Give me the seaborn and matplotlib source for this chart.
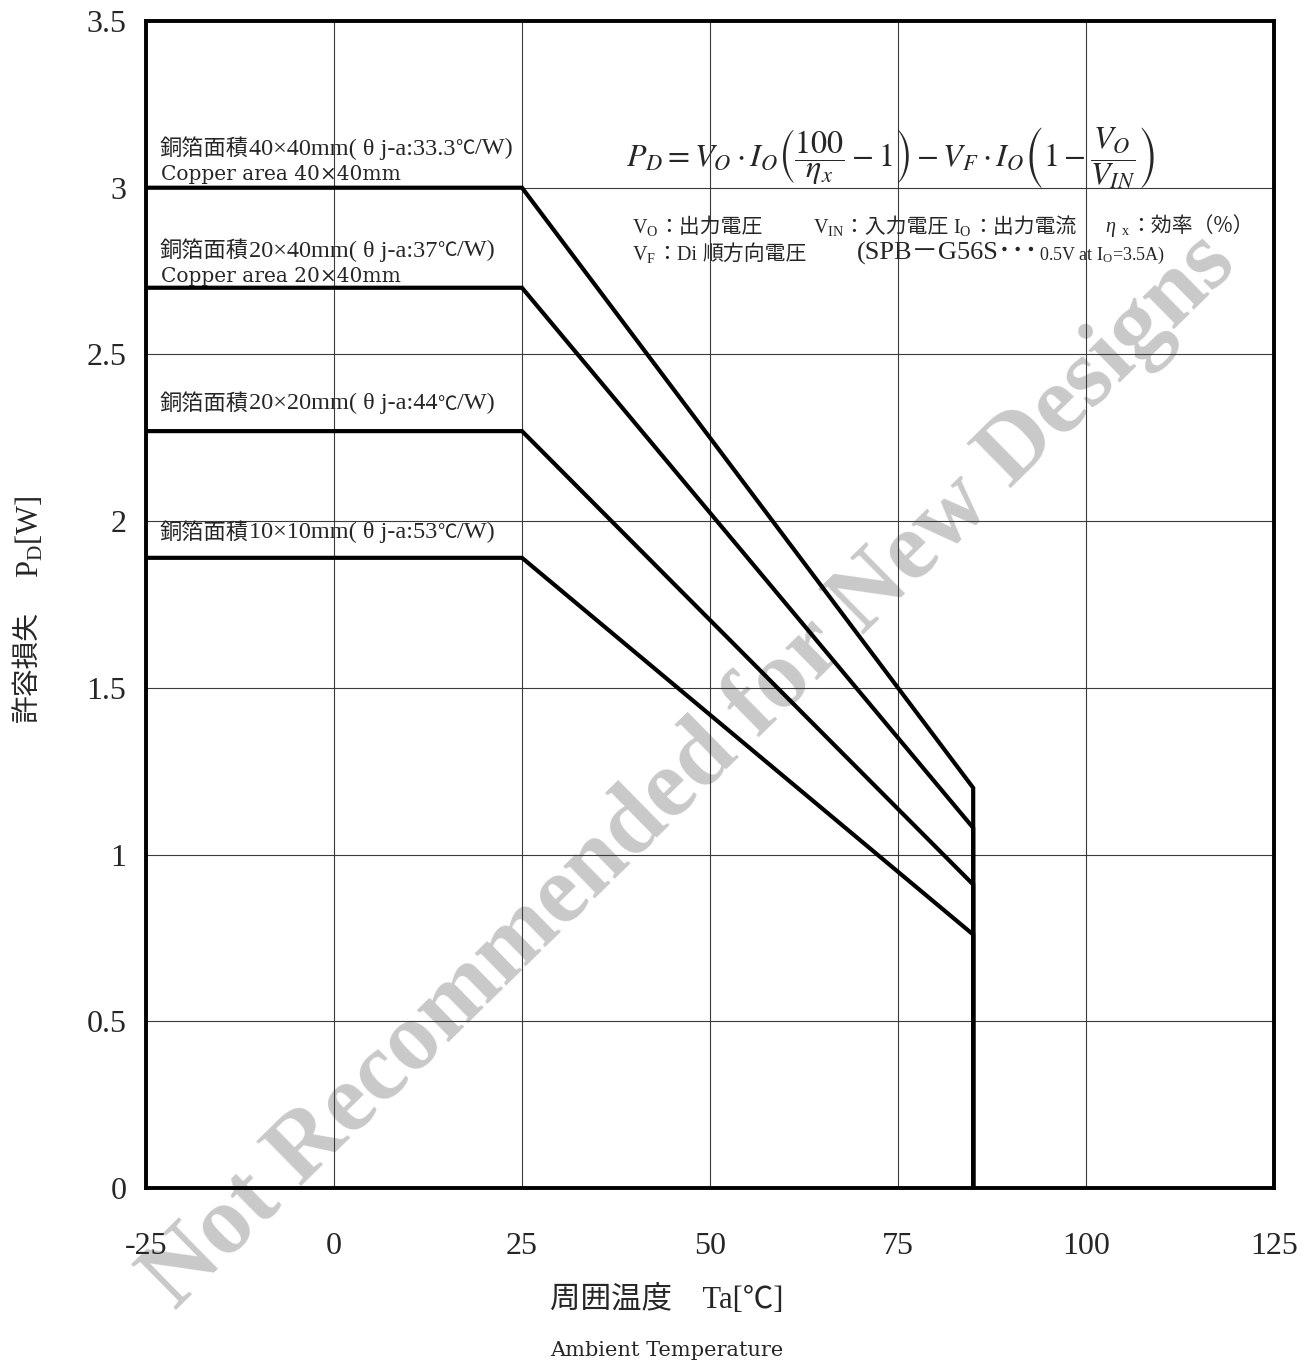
import matplotlib
matplotlib.use("Agg")
import matplotlib.pyplot as plt
import seaborn as sns
import pandas as pd
from matplotlib.offsetbox import TextArea, HPacker, AnnotationBbox

# ---------------- data ----------------
temps = [-25, 25, 85, 85]
pd_40x40 = [3.0, 3.0, 1.2, 0.0]
pd_20x40 = [2.7, 2.7, 1.08, 0.0]
pd_20x20 = [2.27, 2.27, 0.91, 0.0]
pd_10x10 = [1.89, 1.89, 0.76, 0.0]
series_names = ["40x40", "20x40", "20x20", "10x10"]
series_values = [pd_40x40, pd_20x40, pd_20x20, pd_10x10]

x_ticks = [-25, 0, 25, 50, 75, 100, 125]
x_tick_labels = ["-25", "0", "25", "50", "75", "100", "125"]
y_ticks = [0, 0.5, 1, 1.5, 2, 2.5, 3, 3.5]
y_tick_labels = ["0", "0.5", "1", "1.5", "2", "2.5", "3", "3.5"]

copper_sizes = ["40×40mm", "20×40mm", "20×20mm", "10×10mm"]
copper_theta = ["33.3", "37", "44", "53"]
copper_en = ["Copper area 40×40mm", "Copper area 20×40mm"]

# ---------------- style ----------------
sns.set_style("white")
SERIF_CJK = ["Liberation Serif", "Noto Sans CJK JP"]
plt.rcParams["font.family"] = SERIF_CJK
plt.rcParams["axes.unicode_minus"] = False
plt.rcParams["mathtext.fontset"] = "custom"
plt.rcParams["mathtext.rm"] = "Liberation Serif"
plt.rcParams["mathtext.it"] = "Liberation Serif:italic"
plt.rcParams["mathtext.bf"] = "Liberation Serif:bold"

W, H = 1302, 1362
fig = plt.figure(figsize=(W / 100, H / 100), dpi=100)
ax = fig.add_axes([146 / W, 1 - 1188 / H, (1274 - 146) / W, (1188 - 21) / H])
ax.set_facecolor("none")
ax.patch.set_alpha(0)

rows = []
for name, vals in zip(series_names, series_values):
    for i, (t, v) in enumerate(zip(temps, vals)):
        rows.append({"series": name, "order": i, "Ta": t, "PD": v})
df = pd.DataFrame(rows)

for name in series_names:
    sub = df[df["series"] == name]
    sns.lineplot(data=sub, x="Ta", y="PD", sort=False, estimator=None,
                 color="black", linewidth=3.0, ax=ax, zorder=3,
                 solid_joinstyle="miter")

ax.set_xlim(-25, 125)
ax.set_ylim(0, 3.5)
ax.set_xticks(x_ticks)
ax.set_xticklabels(x_tick_labels)
ax.set_yticks(y_ticks)
ax.set_yticklabels(y_tick_labels)
ax.tick_params(axis="x", labelsize=23, pad=32, length=0)
ax.tick_params(axis="y", labelsize=23, pad=14, length=0)
ax.set_xlabel("")
ax.set_ylabel("")
ax.grid(True, color="#3a3a3a", linewidth=0.8, zorder=1)
ax.set_axisbelow(True)
for sp in ax.spines.values():
    sp.set_linewidth(2.8)
    sp.set_color("black")
    sp.set_zorder(4)


def fx(x):
    return x / W


def fy(y):
    return 1 - y / H


def rich(pieces, x_px, y_px, ha=0.0):
    children = [TextArea(s, textprops=p) for s, p in pieces]
    box = HPacker(children=children, align="baseline", pad=0, sep=0)
    ab = AnnotationBbox(box, (fx(x_px), fy(y_px)), xycoords="figure fraction",
                        box_alignment=(ha, 0.5), frameon=False, pad=0)
    ab.set_zorder(5)
    fig.add_artist(ab)


# ---------------- copper annotations ----------------
label_y = [148, 250, 403, 532]
for sz, th, yy in zip(copper_sizes, copper_theta, label_y):
    rich([("銅箔面積", dict(size=16, family="Noto Sans CJK JP")),
          (f"{sz}( θ j-a:{th}", dict(size=17.5, family="Liberation Serif")),
          ("℃", dict(size=14, family="Noto Sans CJK JP")),
          ("/W)", dict(size=17.5, family="Liberation Serif"))],
         160, yy)
en_y = [175, 277]
for lab, yy in zip(copper_en, en_y):
    fig.text(fx(161), fy(yy), lab, fontsize=14.5, family="DejaVu Serif",
             ha="left", va="center", zorder=5)

# ---------------- formula ----------------
formula = (r"$P_D = V_O\cdot I_O\left(\dfrac{100}{\eta_x}-1\right)"
           r" - V_F\cdot I_O\left(1-\dfrac{V_O}{V_{IN}}\right)$")
fig.text(fx(891), fy(158), formula, fontsize=23, math_fontfamily="stix",
         ha="center", va="center", zorder=5)

lat = dict(size=14.5, family="Liberation Serif")
cjk = dict(size=15, family="Noto Sans CJK JP")
rich([(r"V$_{\mathrm{O}}$", lat), ("：出力電圧", cjk)], 632, 227)
rich([(r"V$_{\mathrm{IN}}$", lat), ("：入力電圧 ", cjk),
      (r"I$_{\mathrm{O}}$", lat), ("：出力電流", cjk)], 813, 227)
rich([(r"$\eta$", dict(size=14.5, family="Liberation Serif")),
      (r" $_{\mathrm{x}}$", lat), ("：効率（%）", cjk)], 1105, 227)
rich([(r"V$_{\mathrm{F}}$", lat), ("：", cjk), ("Di ", lat), ("順方向電圧", cjk)],
     632, 254)
rich([("(SPB－G56S･･･", dict(size=19, family=SERIF_CJK)),
      (r"0.5V at I$_{\mathrm{O}}$=3.5A)", dict(size=13, family="Liberation Serif"))],
     857, 254)

# ---------------- axis labels ----------------
fig.text(fx(550), fy(1300), "周囲温度　Ta[℃]", fontsize=22, family=SERIF_CJK,
         ha="left", va="center", zorder=5)
fig.text(fx(550), fy(1350), "Ambient Temperature", fontsize=15,
         family="DejaVu Serif", ha="left", va="center", zorder=5)

fig.text(fx(28), fy(667), "許容損失", fontsize=20, family=SERIF_CJK,
         rotation=90, ha="center", va="center", zorder=5)
fig.text(fx(30), fy(537), r"P$_{\mathrm{D}}$[W]", fontsize=22,
         family="Liberation Serif", rotation=90, ha="center", va="center", zorder=5)

# ---------------- watermark ----------------
fig.text(fx(690), fy(772), "Not Recommended for New Designs", fontsize=70,
         family="Liberation Serif", fontweight="bold", color="#c9c9c9",
         rotation=44.5, rotation_mode="anchor", ha="center", va="center",
         zorder=-10)

fig.savefig("out.png", dpi=100)
